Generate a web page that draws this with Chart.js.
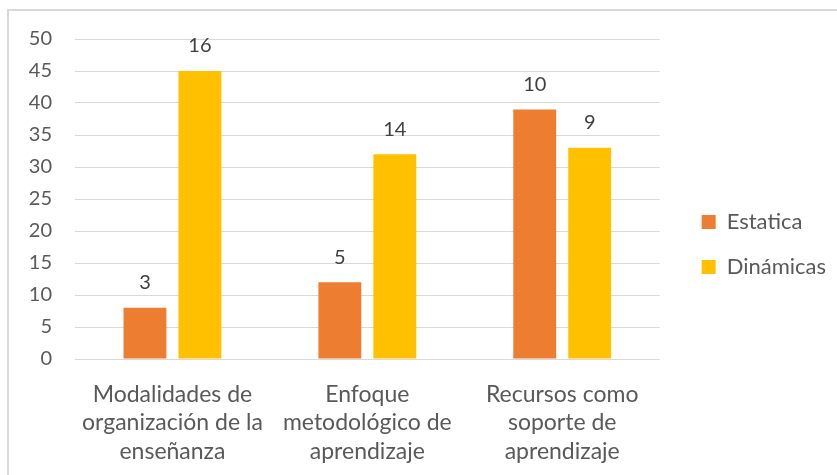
<!DOCTYPE html>
<html>
<head>
<meta charset="utf-8">
<script src="https://cdn.jsdelivr.net/npm/chart.js@4"></script>
<style>
  html, body { margin: 0; padding: 0; background: #fff; overflow: hidden; }
  #frame { position: absolute; left: 7px; top: 9px; width: 860px; height: 500px; border: 2px solid #d9d9d9; box-sizing: border-box; }
  #wrap { position: absolute; left: 0; top: 0; width: 837px; height: 475px; }
</style>
</head>
<body>
<div id="frame"></div>
<div id="wrap"><canvas id="chart"></canvas></div>
<script>
// Kategorien und Werte aus der Grafik
const categories = [
    ['Modalidades de', 'organización de la', 'enseñanza'],
    ['Enfoque', 'metodológico de', 'aprendizaje'],
    ['Recursos como', 'soporte de', 'aprendizaje']
];
const estatica = [8, 12, 39];
const dinamicas = [45, 32, 33];
// Beschriftungen über den Balken
const estaticaLabels = [3, 5, 10];
const dinamicasLabels = [16, 14, 9];
const yTicks = [0, 5, 10, 15, 20, 25, 30, 35, 40, 45, 50];

const fontFamily = 'Lato, "Open Sans", sans-serif';
const legendGap = 19;

// Zahlen über die Balken schreiben
const barLabels = {
    id: 'barLabels',
    afterDatasetsDraw(chart) {
        const ctx = chart.ctx;
        ctx.save();
        ctx.font = '20px ' + fontFamily;
        ctx.fillStyle = '#404040';
        ctx.textAlign = 'center';
        ctx.textBaseline = 'middle';
        chart.data.datasets.forEach((ds, i) => {
            chart.getDatasetMeta(i).data.forEach((bar, j) => {
                ctx.fillText(String(ds.topLabels[j]), bar.x, bar.y - 25);
            });
        });
        ctx.restore();
    }
};

// Legende etwas breiter machen und nach rechts schieben (Abstand zum Diagramm)
const legendSpace = {
    id: 'legendSpace',
    beforeLayout(chart) {
        const lg = chart.legend;
        if (lg && !lg._spaced) {
            const fit = lg.fit;
            lg.fit = function () {
                fit.call(this);
                this.width += legendGap;
            };
            lg._spaced = true;
        }
    },
    afterLayout(chart) {
        if (chart.legend) {
            chart.legend.left += legendGap;
            chart.legend.right += legendGap;
        }
    }
};

let canvas = document.getElementById('chart');
let ctx = canvas.getContext('2d');
canvas.chart = new Chart(ctx, {
    type: 'bar',
    data: {
        labels: categories,
        datasets: [{
            label: 'Estatica',
            data: estatica,
            topLabels: estaticaLabels,
            backgroundColor: '#ED7D31'
        }, {
            label: 'Dinámicas',
            data: dinamicas,
            topLabels: dinamicasLabels,
            backgroundColor: '#FFC000'
        }]
    },
    options: {
        responsive: true,
        maintainAspectRatio: false,
        animation: false,
        categoryPercentage: 0.564,
        barPercentage: 0.78,
        layout: {
            padding: { top: 39, right: 1, bottom: 9, left: 0 }
        },
        scales: {
            x: {
                grid: { display: false, drawTicks: false },
                border: { display: false },
                ticks: {
                    color: '#595959',
                    padding: 21,
                    maxRotation: 0,
                    font: { family: fontFamily, size: 23, lineHeight: 1.24 }
                },
                afterFit: s => { s.height = 107; }
            },
            y: {
                min: 0,
                max: 50,
                afterBuildTicks: s => { s.ticks = yTicks.map(v => ({ value: v })); },
                grid: { color: '#d9d9d9', lineWidth: 1, drawTicks: false },
                border: { display: false },
                ticks: {
                    color: '#595959',
                    padding: 23,
                    font: { family: fontFamily, size: 20 }
                },
                afterFit: s => { s.width = 75; }
            }
        },
        plugins: {
            legend: {
                position: 'right',
                align: 'start',
                // leerer Titel schiebt die Einträge nach unten
                title: {
                    display: true,
                    text: '',
                    font: { size: 10, lineHeight: 1 },
                    padding: { top: 139, bottom: 0 }
                },
                labels: {
                    boxWidth: 14,
                    boxHeight: 14,
                    padding: 23,
                    color: '#595959',
                    font: { family: fontFamily, size: 22 }
                }
            },
            tooltip: { enabled: false }
        }
    },
    plugins: [barLabels, legendSpace]
});
</script>
</body>
</html>
